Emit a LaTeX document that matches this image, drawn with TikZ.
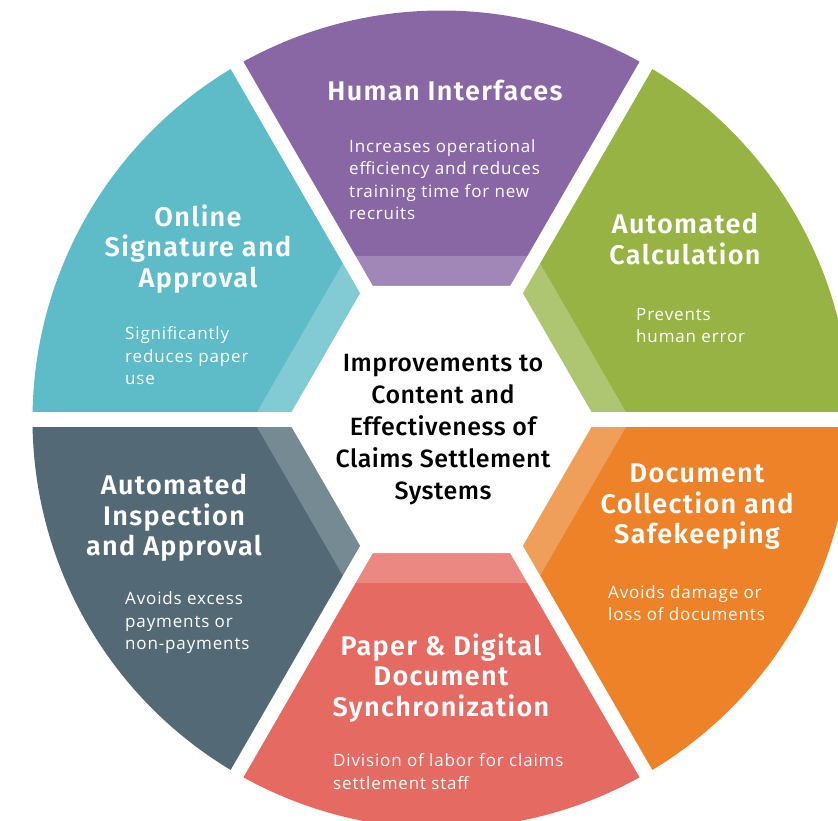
\documentclass[tikz,border=0pt]{standalone}
\usepackage{fontspec}
\setmainfont{Open Sans}[LetterSpace=5]
\newfontfamily\titlefont{Fira Sans SemiBold}[LetterSpace=5]
\newfontfamily\centerfont{Fira Sans Medium}[LetterSpace=2]
\definecolor{segPurple}{HTML}{8967A5}
\definecolor{segPurpleS}{HTML}{A186B8}
\definecolor{segGreen}{HTML}{97B343}
\definecolor{segGreenS}{HTML}{AEC571}
\definecolor{segOrange}{HTML}{ED8228}
\definecolor{segOrangeS}{HTML}{F09F5A}
\definecolor{segRed}{HTML}{E56A62}
\definecolor{segRedS}{HTML}{EA8881}
\definecolor{segSlate}{HTML}{536A76}
\definecolor{segSlateS}{HTML}{768A94}
\definecolor{segTeal}{HTML}{5EBBC8}
\definecolor{segTealS}{HTML}{82CBD4}
\begin{document}
\begin{tikzpicture}[x=1pt,y=-1pt,
  title/.style={text=white, align=center, inner sep=0pt, font=\titlefont\fontsize{27}{30.5}\selectfont},
  desc/.style={text=white, align=left, anchor=west, inner sep=0pt, font=\fontsize{17}{22.5}\selectfont},
  hub/.style={text=black, align=center, inner sep=0pt, font=\centerfont\fontsize{25}{32}\selectfont}]
\useasboundingbox (0,0) rectangle (838,821);
\clip (0,0) rectangle (838,821);
\coordinate (C) at (441.5,419.5);
% segments with bevel strips
\foreach \a/\c/\s in {-90/segPurple/segPurpleS, -30/segGreen/segGreenS, 30/segOrange/segOrangeS, 90/segRed/segRedS, 150/segSlate/segSlateS, 210/segTeal/segTealS}{
  \fill[\c] (C) -- ([shift={(C)}]\a-30:409) arc[start angle=\a-30, end angle=\a+30, radius=409] -- cycle;
  \fill[\s] ([shift={(C)}]\a-30:154.2) -- ([shift={(C)}]\a+30:154.2) -- ([shift={(C)}]\a+30:188.8) -- ([shift={(C)}]\a-30:188.8) -- cycle;
}
% white gaps
\foreach \a in {0,60,120}{
  \draw[white, line width=14.5pt] ([shift={(C)}]\a:440) -- ([shift={(C)}]\a+180:440);
}
% central hexagon
\fill[white] ([shift={(C)}]0:154.2) -- ([shift={(C)}]60:154.2) -- ([shift={(C)}]120:154.2) -- ([shift={(C)}]180:154.2) -- ([shift={(C)}]240:154.2) -- ([shift={(C)}]300:154.2) -- cycle;
% titles
\node[title] (t1) at (445,90) {Human Interfaces};
\node[title] (t2) at (685,239) {Automated\\Calculation};
\node[title] (t3) at (697,507) {Document\\Collection and\\Safekeeping};
\node[title] (t4) at (441,678) {Paper \& Digital\\Document\\Synchronization};
\node[title] (t5) at (174,518) {Automated\\Inspection\\and Approval};
\node[title] (t6) at (198,249) {Online\\Signature and\\Approval};
% descriptions
\node[desc] (d1) at (349,179.5) {Increases operational\\efficiency and reduces\\training time for new\\recruits};
\node[desc] (d2) at (636,325.5) {Prevents\\human error};
\node[desc] (d3) at (608,603) {Avoids damage or\\loss of documents};
\node[desc] (d4) at (333,771.5) {Division of labor for claims\\settlement staff};
\node[desc] (d5) at (125,623) {Avoids excess\\payments or\\non-payments};
\node[desc] (d6) at (125,356) {Significantly\\reduces paper\\use};
% hub
\node[hub] (hub) at (443,430) {Improvements to\\Content and\\Effectiveness of\\Claims Settlement\\Systems};
\end{tikzpicture}
\end{document}
